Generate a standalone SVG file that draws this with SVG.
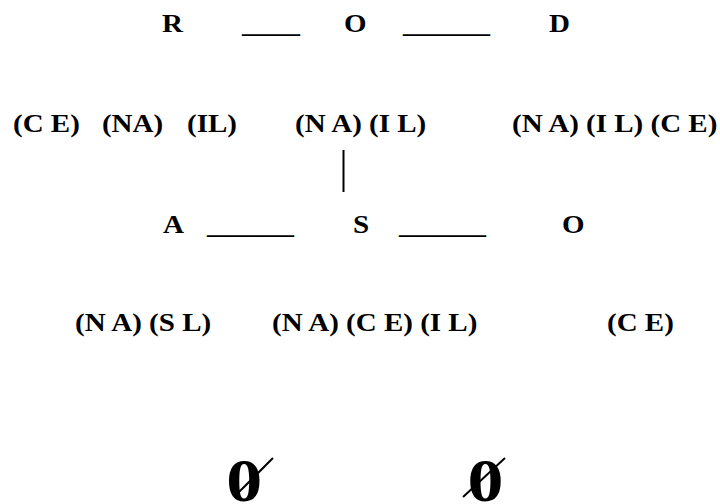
<svg xmlns="http://www.w3.org/2000/svg" width="720" height="504" viewBox="0 0 720 504">
<style>
.t{font-family:"Liberation Serif","Times New Roman",serif;font-weight:bold;font-size:25px;fill:#000}
.z{font-family:"Liberation Serif","Times New Roman",serif;font-weight:bold;font-size:62px;fill:#000}
.ln{stroke:#000;stroke-width:2;fill:none}
</style>
<rect width="720" height="504" fill="#fff"/>
<g transform="scale(1.16,1)">
<g id="row1">
<text class="t" x="139.7" y="32">R</text>
<text class="t" x="208.6" y="32">____</text>
<text class="t" x="296.6" y="32">O</text>
<text class="t" x="347.4" y="32">______</text>
<text class="t" x="473.3" y="32">D</text>
</g>
<g id="row2">
<text class="t" x="11.2" y="132">(C E)</text>
<text class="t" x="87.9" y="132">(NA)</text>
<text class="t" x="161.2" y="132">(IL)</text>
<text class="t" x="254.3" y="132">(N A) (I L)</text>
<text class="t" x="441.4" y="132">(N A) (I L) (C E)</text>
</g>
<g id="row3">
<text class="t" x="140.5" y="233">A</text>
<text class="t" x="178.4" y="233">______</text>
<text class="t" x="304.3" y="233">S</text>
<text class="t" x="344" y="233">______</text>
<text class="t" x="484.5" y="233">O</text>
</g>
<g id="row4">
<text class="t" x="64.7" y="331">(N A) (S L)</text>
<text class="t" x="234.5" y="331">(N A) (C E) (I L)</text>
<text class="t" x="523.3" y="331">(C E)</text>
</g>
<g id="empty1"><text class="z" x="195" y="501">0</text></g>
<g id="empty2"><text class="z" x="403" y="501">0</text></g>
</g>
<g id="connectors">
<line class="ln" x1="343.5" y1="150" x2="343.5" y2="192"/>
<line class="ln" x1="238" y1="493" x2="273" y2="458"/>
<line class="ln" x1="463" y1="497" x2="505" y2="458"/>
</g>
</svg>
